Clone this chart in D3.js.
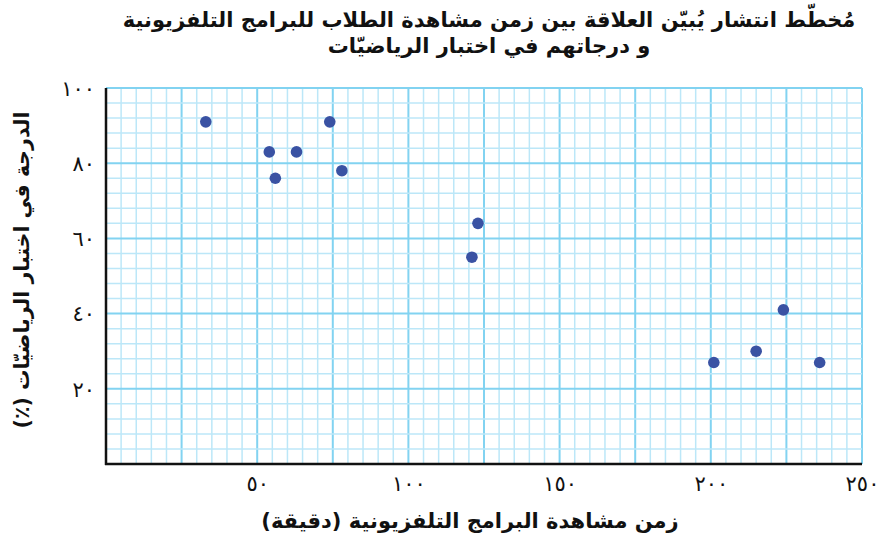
<!DOCTYPE html>
<html lang="ar">
<head>
<meta charset="utf-8">
<script src="https://cdn.jsdelivr.net/npm/d3@7/dist/d3.min.js"></script>
<style>
  html, body { margin: 0; padding: 0; background: #fff; }
  svg { display: block; }
  text { font-family: "DejaVu Sans", sans-serif; }
</style>
</head>
<body>
<svg id="chart" width="879" height="540"></svg>
<script>
// Minutes of TV watched vs. maths test score (%)
const minutes = [33, 54, 63, 56, 74, 78, 123, 121, 201, 215, 224, 236];
const scores  = [91, 83, 83, 76, 91, 78, 64, 55, 27, 30, 41, 27];

const xTicks = [50, 100, 150, 200, 250];
const yTicks = [20, 40, 60, 80, 100];
const xTickLabels = ["٥٠", "١٠٠", "١٥٠", "٢٠٠", "٢٥٠"];
const yTickLabels = ["٢٠", "٤٠", "٦٠", "٨٠", "١٠٠"];

const titleLines = [
  "مُخطّط انتشار يُبيّن العلاقة بين زمن مشاهدة الطلاب للبرامج التلفزيونية",
  "و درجاتهم في اختبار الرياضيّات"
];
const xTitle = "زمن مشاهدة البرامج التلفزيونية (دقيقة)";
const yTitle = "الدرجة في اختبار الرياضيّات (٪)";

const svg = d3.select("#chart");
const margin = { left: 106, right: 17, top: 88, bottom: 76 };
const W = 879, H = 540;

const x = d3.scaleLinear().domain([0, 250]).range([margin.left, W - margin.right]);
const y = d3.scaleLinear().domain([0, 100]).range([H - margin.bottom, margin.top]);

// graph-paper grid: fine lines, heavier every fifth
const grid = svg.append("g");
const xMinor = d3.range(5, 251, 5);
const yMinor = d3.range(4, 101, 4);
grid.selectAll("line.vx").data(xMinor).join("line")
  .attr("x1", d => x(d)).attr("x2", d => x(d))
  .attr("y1", y(0)).attr("y2", y(100))
  .attr("stroke", d => d % 25 === 0 ? "#82d3f1" : "#bce7f8")
  .attr("stroke-width", d => d % 25 === 0 ? 2 : 1.5);
grid.selectAll("line.hy").data(yMinor).join("line")
  .attr("y1", d => y(d)).attr("y2", d => y(d))
  .attr("x1", x(0)).attr("x2", x(250))
  .attr("stroke", d => d % 20 === 0 ? "#82d3f1" : "#bce7f8")
  .attr("stroke-width", d => d % 20 === 0 ? 2 : 1.5);

// axes
const xAxis = d3.axisBottom(x).tickValues(xTicks)
  .tickFormat((d, i) => xTickLabels[i]).tickSize(0).tickPadding(12);
const yAxis = d3.axisLeft(y).tickValues(yTicks)
  .tickFormat((d, i) => yTickLabels[i]).tickSize(0).tickPadding(11);

const gx = svg.append("g").attr("transform", `translate(0,${y(0)})`).call(xAxis);
const gy = svg.append("g").attr("transform", `translate(${x(0)},0)`).call(yAxis);
[gx, gy].forEach(g => {
  g.select(".domain").remove();
  g.selectAll("text").attr("font-family", "DejaVu Sans, sans-serif")
    .attr("font-size", 21).attr("fill", "#111");
});
gy.selectAll("text").attr("dy", "0.35em");

svg.append("line")
  .attr("x1", x(0)).attr("x2", x(0)).attr("y1", y(100)).attr("y2", y(0) + 1)
  .attr("stroke", "#111").attr("stroke-width", 2.5);
svg.append("line")
  .attr("x1", x(0) - 1).attr("x2", x(250)).attr("y1", y(0)).attr("y2", y(0))
  .attr("stroke", "#111").attr("stroke-width", 2.5);

// data points
svg.append("g").selectAll("circle").data(minutes).join("circle")
  .attr("cx", d => x(d))
  .attr("cy", (d, i) => y(scores[i]))
  .attr("r", 5.8)
  .attr("fill", "#3a52a3");

// titles
svg.append("g").selectAll("text").data(titleLines).join("text")
  .attr("x", 489).attr("y", (d, i) => 27 + i * 26)
  .attr("text-anchor", "middle").attr("direction", "rtl")
  .attr("font-size", 21).attr("font-weight", "bold").attr("fill", "#111")
  .text(d => d);

svg.append("text")
  .attr("x", 470).attr("y", 528)
  .attr("text-anchor", "middle").attr("direction", "rtl")
  .attr("font-size", 21).attr("font-weight", "bold").attr("fill", "#111")
  .text(xTitle);

svg.append("text")
  .attr("transform", "translate(29,270) rotate(-90)")
  .attr("text-anchor", "middle").attr("direction", "rtl")
  .attr("font-size", 20.5).attr("font-weight", "bold").attr("fill", "#111")
  .text(yTitle);
</script>
</body>
</html>
